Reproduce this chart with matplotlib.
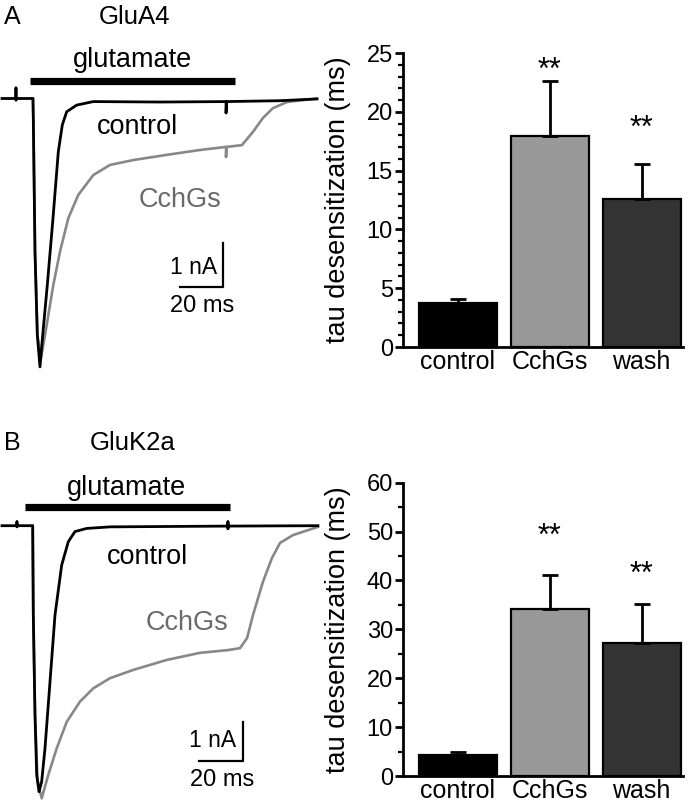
import numpy as np
import matplotlib
matplotlib.use('Agg')
import matplotlib.pyplot as plt
from matplotlib.ticker import MultipleLocator

plt.rcParams['font.family'] = ['Liberation Sans', 'DejaVu Sans']

W, H = 688, 805

# ---- bar data (tau desensitization, ms) ----
conditions = ['control', 'CchGs', 'wash']
bar_colors = ['#000000', '#999999', '#333333']

tau_A = [3.7, 17.9, 12.6]
err_A = [0.35, 4.7, 3.0]
stars_A = [None, 22.8, 17.9]

tau_B = [4.3, 34.2, 27.3]
err_B = [0.7, 7.0, 7.8]
stars_B = [None, 47.2, 39.5]

# ---- current traces (time ms, current nA) ----
ctrl_A_t = [0, 6.5, 6.5, 6.5, 6.6, 14.4, 14.56, 15.35, 16.42, 17.67, 18.93, 21.07, 23.72,
            26.19, 28.05, 30.09, 34.74, 42.46, 73.5, 104.2, 104.2, 104.5, 129.3, 146.5]
ctrl_A_i = [0, 0, 0.24, -0.04, 0, 0, -0.44, -3.49, -5.38, -6.10, -5.38, -4.24, -2.72,
            -1.21, -0.60, -0.30, -0.15, -0.07, -0.08, -0.07, -0.33, -0.07, -0.05, -0.01]

cchg_A_t = [14.4, 14.56, 15.35, 16.5, 18.14, 20.0, 23.86, 26.98, 30.84, 35.49, 42.46, 50.23,
            60.93, 76.74, 92.09, 104.19, 104.19, 104.5, 111.6, 116.7, 121.4, 126.0, 132.6, 146.5]
cchg_A_i = [0, -0.44, -3.49, -5.38, -5.90, -5.38, -4.24, -3.48, -2.72, -2.19, -1.74, -1.51,
            -1.40, -1.28, -1.17, -1.10, -1.33, -1.10, -1.06, -0.76, -0.44, -0.22, -0.08, 0.0]

ctrl_B_t = [0, 6.8, 6.8, 6.8, 6.9, 13.95, 14.23, 15.0, 15.77, 16.82, 18.04, 19.54, 21.82,
            24.09, 27.13, 30.14, 33.18, 38.5, 49.09, 102.7, 102.7, 102.7, 102.8, 143.6]
ctrl_B_i = [0, 0, 0.10, -0.03, 0, 0, -2.29, -4.85, -6.39, -6.82, -6.56, -5.71, -4.00,
            -2.29, -1.01, -0.41, -0.15, -0.07, -0.03, -0.01, 0.10, -0.08, -0.01, 0.0]

cchg_B_t = [13.95, 14.23, 15.0, 16.14, 18.04, 21.04, 24.86, 29.41, 35.45, 41.5, 49.09, 59.54,
            75.0, 90.0, 102.7, 108.2, 111.4, 114.1, 118.6, 122.7, 126.4, 132.3, 143.6]
cchg_B_i = [0, -2.29, -4.85, -6.52, -6.99, -6.39, -5.71, -5.03, -4.51, -4.17, -3.91, -3.70,
            -3.44, -3.26, -3.19, -3.14, -2.88, -2.29, -1.44, -0.83, -0.44, -0.24, -0.03]

trace_gray = '#888888'
label_gray = '#6a6a6a'


def fx(x):
    return x / W


def fy(y):
    return 1 - y / H


def trace_panel(top, bottom, ms_per_px, na_per_px, base_y,
                ctrl_t, ctrl_i, cchg_t, cchg_i, glu, scale):
    ax = fig.add_axes([0, fy(bottom), fx(330), (bottom - top) / H])
    ax.set_facecolor('none')
    ax.axis('off')
    ax.set_xlim(-2 * ms_per_px, 328 * ms_per_px)
    ax.set_ylim(-(bottom - base_y) * na_per_px, (base_y - top) * na_per_px)
    ax.plot(cchg_t, cchg_i, color=trace_gray, lw=1.9, solid_joinstyle='round')
    ax.plot(ctrl_t, ctrl_i, color='black', lw=2.0, solid_joinstyle='round')
    # glutamate application bar
    ax.plot(glu[0:2], [glu[2], glu[2]], color='black', lw=5.2, solid_capstyle='butt')
    # scale bar: 20 ms, 1 nA
    sx, sy = scale
    ax.plot([sx - 20, sx, sx], [sy, sy, sy + 1], color='black', lw=1.6)
    return ax


fig = plt.figure(figsize=(W / 100, H / 100), dpi=100)

# ---------- panel A traces ----------
trace_panel(0, 400, 20 / 43, 1 / 44, 98.5, ctrl_A_t, ctrl_A_i, cchg_A_t, cchg_A_i,
            (13.0, 108.3, 0.40), (102.8, -4.28))
fig.text(fx(12), fy(17), 'A', fontsize=18, ha='center', va='center')
fig.text(fx(135), fy(17), 'GluA4', fontsize=18.5, ha='center', va='center')
fig.text(fx(133), fy(60), 'glutamate', fontsize=19.5, ha='center', va='center')
fig.text(fx(138), fy(127), 'control', fontsize=19.5, ha='center', va='center')
fig.text(fx(180), fy(200), 'CchGs', fontsize=19.5, ha='center', va='center', color=label_gray)
fig.text(fx(217), fy(267), '1 nA', fontsize=16.5, ha='right', va='center')
fig.text(fx(202), fy(306), '20 ms', fontsize=17, ha='center', va='center')

# ---------- panel B traces ----------
trace_panel(405, 805, 20 / 44, 1 / 39, 525.7, ctrl_B_t, ctrl_B_i, cchg_B_t, cchg_B_i,
            (10.5, 103.6, 0.48), (109.5, -6.03))
fig.text(fx(12), fy(443), 'B', fontsize=18, ha='center', va='center')
fig.text(fx(133), fy(443), 'GluK2a', fontsize=18.5, ha='center', va='center')
fig.text(fx(127), fy(488), 'glutamate', fontsize=19.5, ha='center', va='center')
fig.text(fx(147), fy(557), 'control', fontsize=19.5, ha='center', va='center')
fig.text(fx(187), fy(623), 'CchGs', fontsize=19.5, ha='center', va='center', color=label_gray)
fig.text(fx(236), fy(740), '1 nA', fontsize=16.5, ha='right', va='center')
fig.text(fx(222), fy(780), '20 ms', fontsize=17, ha='center', va='center')


# ---------- bar charts ----------
def bar_panel(top, bottom, vals, errs, stars, ymax, major, minor):
    ax = fig.add_axes([fx(402.7), fy(bottom), fx(683) - fx(402.7), (bottom - top) / H])
    x = np.arange(len(conditions))
    ax.bar(x, vals, width=0.85, color=bar_colors, edgecolor='black', linewidth=1.6)
    ax.errorbar(x, vals, yerr=[np.zeros(len(vals)), errs], fmt='none', ecolor='black',
                elinewidth=2.0, capsize=5.5, capthick=2.0)
    for xi, s in zip(x, stars):
        if s is not None:
            ax.text(xi, s, '**', ha='center', va='baseline', fontsize=22)
    ax.set_xlim(-0.6, 2.45)
    ax.set_ylim(0, ymax)
    ax.yaxis.set_major_locator(MultipleLocator(major))
    ax.yaxis.set_minor_locator(MultipleLocator(minor))
    ax.set_xticks(x, conditions)
    ax.tick_params(axis='x', length=0, labelsize=18, pad=2)
    ax.tick_params(axis='y', which='major', length=6, width=2, labelsize=17, pad=1)
    ax.tick_params(axis='y', which='minor', length=3.5, width=1.6)
    for side in ['top', 'right']:
        ax.spines[side].set_visible(False)
    for side in ['left', 'bottom']:
        ax.spines[side].set_linewidth(2)
    ax.set_ylabel('tau desensitization (ms)', fontsize=19.5)
    ax.yaxis.set_label_coords(-0.184, 0.5)
    return ax


bar_panel(53, 347, tau_A, err_A, stars_A, 25, 5, 1)
bar_panel(482.7, 776, tau_B, err_B, stars_B, 60, 10, 5)

fig.savefig('out.png', dpi=100)
